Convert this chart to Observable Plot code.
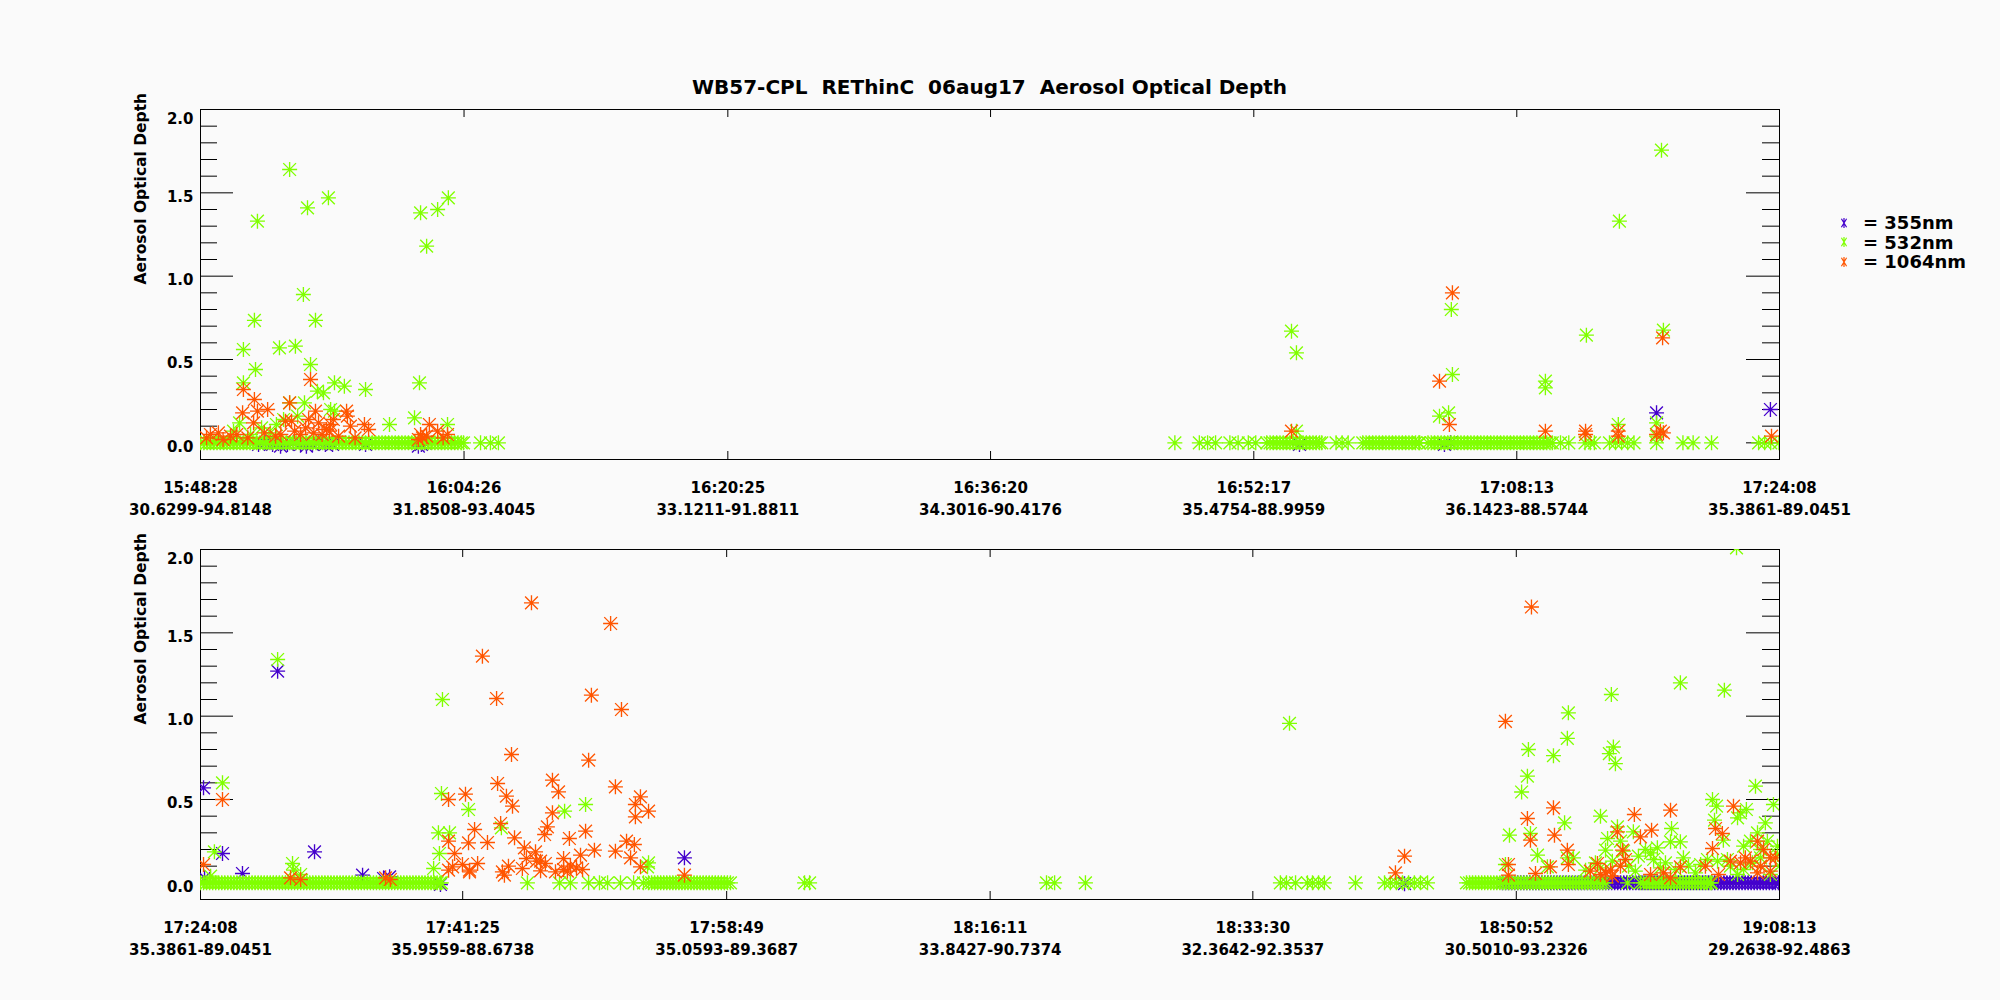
<!DOCTYPE html>
<html><head><meta charset="utf-8">
<script src="https://cdn.jsdelivr.net/npm/d3@7"></script>
<script src="https://cdn.jsdelivr.net/npm/@observablehq/plot@0.6"></script>
<style>
html,body{margin:0;padding:0;background:#fafafa;}
#wrap{position:relative;width:2000px;height:1000px;overflow:hidden;font-family:"DejaVu Sans",sans-serif;font-weight:bold;color:#000;}
#title{position:absolute;left:200px;width:1579px;top:73px;height:28px;line-height:28px;text-align:center;font-size:20px;white-space:pre;}
#top,#bot{position:absolute;left:0;}
#top{top:0px;}
#bot{top:460px;}
#legend{position:absolute;left:1838px;top:213px;font-size:18px;line-height:19.5px;white-space:pre;}
#legend .row{display:flex;align-items:center;height:19.5px;}
#legend svg{margin-right:13px;}
</style></head><body>
<div id="wrap">
  <div id="title"></div>
  <div id="top"></div>
  <div id="bot"></div>
  <div id="legend"></div>
</div>
<script>
// ---------- text ----------
const titleText = "WB57-CPL  REThinC  06aug17  Aerosol Optical Depth";
const yTitle = "Aerosol Optical Depth";
const seriesNames = ["355nm", "532nm", "1064nm"];
const seriesColors = ["#4400cc", "#80ff00", "#ff5500"];

// ---------- axes ----------
const topTimes = ["15:48:28","16:04:26","16:20:25","16:36:20","16:52:17","17:08:13","17:24:08"];
const topCoords = ["30.6299-94.8148","31.8508-93.4045","33.1211-91.8811","34.3016-90.4176","35.4754-88.9959","36.1423-88.5744","35.3861-89.0451"];
const botTimes = ["17:24:08","17:41:25","17:58:49","18:16:11","18:33:30","18:50:52","19:08:13"];
const botCoords = ["35.3861-89.0451","35.9559-88.6738","35.0593-89.3687","33.8427-90.7374","32.3642-92.3537","30.5010-93.2326","29.2638-92.4863"];
const yDomain = [-0.1, 2.0];
const yMajor = [0, 0.5, 1.0, 1.5, 2.0];
const yMinor = [0.1,0.2,0.3,0.4,0.6,0.7,0.8,0.9,1.1,1.2,1.3,1.4,1.6,1.7,1.8,1.9];
const yLabels = [0.0, 0.5, 1.0, 1.5];
const yTopLabel = [2.0];

// ---------- data: [seconds of day (UTC), AOD] ----------
// top panel 355nm
const top355 = [[57119,-0.01],[57144,0],[57170,-0.01],[57199,-0.02],[57224,-0.01],[57246,0],[57272,-0.01],[57293,-0.02],[57315,-0.01],[57337,0],[57362,-0.01],[57388,-0.01],[57508,-0.01],[57700,-0.02],[57711,-0.01],[57722,0],[60903,-0.01],[61430,-0.01],[61452,0],[62201,0.18],[62615,0.20]];
// top panel 532nm (above zero)
const top532 = [[57028,0.07],[57050,0.12],[57064,0.56],[57064,0.36],[57090,0.05],[57104,0.735],[57108,0.44],[57115,1.33],[57130,0.09],[57162,0.06],[57184,0.11],[57195,0.57],[57210,0.14],[57232,1.64],[57232,0.24],[57253,0.58],[57261,0.16],[57282,0.89],[57286,0.24],[57297,1.41],[57308,0.47],[57326,0.735],[57333,0.31],[57355,0.30],[57373,1.47],[57381,0.20],[57395,0.19],[57395,0.36],[57431,0.34],[57508,0.32],[57595,0.11],[57686,0.15],[57704,0.36],[57708,1.38],[57730,1.18],[57770,1.40],[57806,0.11],[57809,1.47],
[60874,0.67],[60892,0.54],[60892,0.07],[61412,0.16],[61445,0.18],[61455,0.80],[61459,0.41],[61797,0.37],[61797,0.33],[61946,0.646],[62062,0.11],[62066,1.33],[62201,0.12],[62219,1.756],[62226,0.676],[62201,0.04]];
// top panel 532nm records at 0.0
const top532Zero = [56908,56920,56932,56944,56956,56968,56980,56992,57004,57016,57028,57040,57052,57064,57076,57088,57100,57112,57124,57136,57148,57160,57172,57184,57196,57208,57220,57232,57244,57256,57268,57280,57292,57304,57316,57328,57340,57352,57364,57376,57388,57400,57412,57424,57436,57448,57460,57472,57484,57496,57508,57520,57532,57544,57556,57568,57580,57592,57604,57616,57628,57640,57652,57664,57676,57688,57700,57712,57724,57736,57748,57760,57772,57784,57796,57808,57820,57832,57844,57856,57864,57926,57962,57991,
60450,60539,60569,60598,60650,60680,60717,60744,
60784,60796,60808,60820,60832,60844,60856,60868,60880,60892,60904,60916,60928,60940,60952,60964,60976,60984,61036,61058,61080,
61133,61145,61157,61169,61181,61193,61205,61217,61229,61241,61253,61265,61277,61289,61301,61313,61325,61337,61340,
61370,61382,61394,61406,61418,61430,61442,61454,61466,61478,61490,61502,61514,61526,61538,61550,61562,61574,61586,61598,61610,61622,61634,61646,61658,61670,61682,61694,61706,61718,61730,61742,61754,61766,61778,61790,61802,61814,61822,
61852,61882,61941,61960,61975,62030,62052,62074,62096,62119,62201,62297,62334,62401,62572,62594,62616,62646];
// top panel 1064nm
const top1064 = [[56930,0.03],[56944,0.05],[56973,0.06],[56990,0.02],[57017,0.04],[57040,0.05],[57061,0.18],[57064,0.32],[57080,0.03],[57101,0.12],[57104,0.26],[57115,0.19],[57140,0.06],[57152,0.20],[57181,0.04],[57200,0.05],[57217,0.13],[57232,0.24],[57239,0.13],[57250,0.07],[57272,0.05],[57290,0.09],[57301,0.14],[57308,0.38],[57320,0.06],[57326,0.19],[57337,0.12],[57350,0.05],[57366,0.08],[57377,0.07],[57381,0.11],[57391,0.14],[57410,0.04],[57439,0.19],[57442,0.16],[57453,0.10],[57470,0.03],[57504,0.11],[57519,0.08],[57700,0.02],[57708,0.05],[57715,0.03],[57730,0.04],[57740,0.11],[57770,0.07],[57790,0.03],[57806,0.05],
[60874,0.07],[61412,0.37],[61448,0.11],[61459,0.90],[61797,0.07],[61943,0.07],[61943,0.05],[62062,0.07],[62062,0.04],[62201,0.05],[62215,0.07],[62223,0.63],[62226,0.06],[62619,0.04]];

// bottom panel 355nm
const bot355 = [[62660,0.57],[62664,0.03],[62735,0.176],[62814,0.056],[62953,1.27],[63099,0.186],[63289,0.046],[63372,0.026],[63396,0.036],[63597,-0.01],[64562,0.15],[67410,-0.005]];
const bot355Zero = [67797,67809,67821,67833,67845,67857,67869,67881,67893,67905,67917,67929,67941,67953,67965,67977,67989,68001,68013,68025,68037,68049,68061,68073,68085,68097,68109,68121,68133,68145,68157,68169,68181,68193,68205,68217,68229,68241,68253,68265,68277,68289,68301,68313,68325,68337,68349,68361,68373,68385,68397,68409,68421,68433,68445,68457,68469,68481,68493,68505,68517,68529,68541,68553,68565,68577,68589,68601,68613,68625,68637,68649,68661,68673,68685,68697,68709,68721,68733,68745,68757,68769,68781,68793,68805,68817,68829,68841,68853,68865,68877,68889,68893];
// bottom panel 532nm
const bot532 = [[62688,0.04],[62703,0.186],[62735,0.60],[62953,1.34],[63012,0.116],[63016,0.076],[63044,0.05],[63570,0.086],[63589,0.30],[63593,0.176],[63601,0.536],[63605,1.10],[63633,0.30],[63708,0.44],[63838,0.33],[64088,0.43],[64171,0.47],[64416,0.096],[64420,0.12],
[66955,0.957],[67809,0.11],[67825,0.286],[67873,0.545],[67896,0.64],[67900,0.80],[67908,0.296],[67936,0.166],[67975,0.096],[67999,0.763],[68043,0.36],[68054,0.867],[68054,0.15],[68058,1.02],[68078,0.15],[68126,0.076],[68165,0.12],[68185,0.40],[68185,0.09],[68205,0.196],[68213,0.266],[68220,0.775],[68228,1.13],[68232,0.13],[68236,0.815],[68244,0.715],[68252,0.336],[68264,0.25],[68276,0.19],[68296,0.10],[68315,0.306],[68323,0.07],[68335,0.16],[68363,0.20],[68383,0.18],[68395,0.14],[68410,0.21],[68422,0.09],[68442,0.12],[68462,0.246],[68466,0.326],[68482,0.08],[68501,0.246],[68501,1.20],[68513,0.15],[68533,0.10],[68561,0.06],[68581,0.11],[68608,0.14],[68628,0.50],[68636,0.376],[68644,0.46],[68648,0.13],[68671,0.256],[68675,1.156],[68687,0.14],[68699,0.10],[68723,2.01],[68727,0.39],[68727,0.05],[68739,0.42],[68751,0.22],[68751,0.08],[68762,0.44],[68778,0.25],[68786,0.12],[68798,0.58],[68806,0.30],[68818,0.20],[68818,0.15],[68837,0.36],[68845,0.25],[68857,0.05],[68869,0.47],[68885,0.22],[68885,0.17],[68893,0.10]];
const bot532Zero = [62648,62660,62672,62684,62696,62708,62720,62732,62744,62756,62768,62780,62792,62804,62816,62828,62840,62852,62864,62876,62888,62900,62912,62924,62936,62948,62960,62972,62984,62996,63008,63020,63032,63044,63056,63068,63080,63092,63104,63116,63128,63140,63152,63164,63176,63188,63200,63212,63224,63236,63248,63260,63272,63284,63296,63308,63320,63332,63344,63356,63368,63380,63392,63404,63416,63428,63440,63452,63464,63476,63488,63500,63512,63524,63536,63548,63560,63572,63584,63596,63601,
63941,64068,64111,64183,64226,64258,64309,64361,64400,
64420,64432,64444,64456,64468,64480,64492,64504,64516,64528,64540,64552,64564,64576,64588,64600,64612,64624,64636,64648,64660,64672,64684,64696,64708,64720,64732,64744,
65037,65057,65994,66026,66148,66919,66943,66979,67026,67046,67070,67093,67216,67331,67354,67378,67402,67426,67449,67473,67501,
67655,67667,67679,67691,67703,67715,67727,67739,67751,67763,67775,67787,67799,67811,67823,67835,67847,67859,67871,67883,67895,67907,67919,67931,67943,67955,67967,67979,67991,68003,68015,68027,68039,68051,68063,68075,68087,68099,68111,68123,68135,68147,68159,68171,68183,68195,68207,68292,
68343,68355,68367,68379,68391,68403,68415,68427,68439,68451,68463,68475,68487,68499,68511,68523,68535,68547,68559,68571,68583,68595,68607,68619,68624];
// bottom panel 1064nm
const bot1064 = [[62660,0.11],[62735,0.50],[63004,0.03],[63044,0.02],[63380,0.03],[63399,0.02],[63629,0.50],[63629,0.25],[63629,0.076],[63645,0.096],[63653,0.176],[63684,0.11],[63696,0.532],[63708,0.24],[63712,0.076],[63712,0.066],[63732,0.32],[63744,0.116],[63763,1.36],[63783,0.242],[63819,1.106],[63823,0.596],[63835,0.356],[63842,0.066],[63850,0.046],[63858,0.52],[63866,0.10],[63878,0.77],[63882,0.46],[63890,0.27],[63921,0.086],[63929,0.21],[63937,0.146],[63957,1.68],[63973,0.186],[63977,0.13],[63993,0.13],[63993,0.072],[64009,0.29],[64012,0.116],[64020,0.336],[64040,0.616],[64040,0.42],[64052,0.066],[64064,0.546],[64084,0.146],[64084,0.08],[64099,0.07],[64107,0.266],[64111,0.10],[64135,0.09],[64151,0.166],[64159,0.08],[64171,0.31],[64183,0.736],[64194,1.126],[64206,0.196],[64270,1.556],[64289,0.576],[64289,0.19],[64313,1.04],[64333,0.25],[64349,0.15],[64364,0.23],[64368,0.47],[64368,0.396],[64388,0.516],[64388,0.096],[64420,0.43],[64562,0.046],
[67374,0.06],[67410,0.16],[67809,0.969],[67821,0.11],[67821,0.046],[67896,0.386],[67908,0.256],[67912,1.655],[67928,0.056],[67987,0.096],[67999,0.45],[68003,0.286],[68054,0.196],[68058,0.11],[68145,0.07],[68173,0.116],[68185,0.05],[68205,0.06],[68225,0.076],[68232,0.04],[68252,0.306],[68264,0.10],[68272,0.196],[68284,0.14],[68319,0.41],[68343,0.276],[68383,0.05],[68387,0.316],[68434,0.06],[68462,0.436],[68462,0.03],[68501,0.096],[68600,0.10],[68628,0.206],[68640,0.326],[68652,0.05],[68667,0.296],[68699,0.13],[68711,0.46],[68739,0.12],[68758,0.15],[68778,0.13],[68806,0.25],[68806,0.06],[68818,0.10],[68830,0.20],[68857,0.15],[68857,0.07],[68877,0.15]];

// ---------- helpers ----------
const sec = s => { const [h,m,x] = s.split(":").map(Number); return h*3600 + m*60 + x; };
const pairs = a => a.map(([t,v]) => ({t, v}));
const zeros = a => a.map(t => ({t, v: 0}));

// IDL-style asterisk (psym=2): vertical, horizontal and two diagonals
const idlStar = {
  draw(ctx, size) {
    const r = Math.sqrt(size / Math.PI), d = r * 0.85;
    ctx.moveTo(0, -r); ctx.lineTo(0, r);
    ctx.moveTo(-r, 0); ctx.lineTo(r, 0);
    ctx.moveTo(-d, -d); ctx.lineTo(d, d);
    ctx.moveTo(-d, d); ctx.lineTo(d, -d);
  }
};

const W = 2000, H = 540, ML = 200, MR = 221;
const FW = W - ML - MR, FH = 350;
const font = {fontFamily: "DejaVu Sans", fontWeight: "bold", fill: "#000"};

function panel(times, coords, s355, s532, s532z, s1064, s355z, mTop) {
  const ticks = times.map(sec);
  const tickData = ticks.map((t, i) => ({t, label: times[i] + "\n" + coords[i]}));
  const dotOpts = c => ({x: "t", y: "v", r: 7.5, symbol: idlStar, fill: "none", stroke: c, strokeWidth: 1.35, clip: true});
  return Plot.plot({
    width: W, height: H,
    marginLeft: ML, marginRight: MR, marginTop: mTop, marginBottom: H - mTop - FH,
    x: {domain: [ticks[0], ticks[ticks.length - 1]], axis: null},
    y: {domain: yDomain, axis: null},
    style: {background: "transparent", overflow: "visible"},
    marks: [
      Plot.frame({stroke: "#000", strokeWidth: 1}),
      Plot.tickY(yMajor, {y: d => d, insetRight: FW - 33, stroke: "#000"}),
      Plot.tickY(yMinor, {y: d => d, insetRight: FW - 17, stroke: "#000"}),
      Plot.tickY(yMajor, {y: d => d, insetLeft: FW - 33, stroke: "#000"}),
      Plot.tickY(yMinor, {y: d => d, insetLeft: FW - 17, stroke: "#000"}),
      Plot.tickX(ticks, {x: d => d, insetTop: FH - 8, stroke: "#000"}),
      Plot.tickX(ticks, {x: d => d, insetBottom: FH - 8, stroke: "#000"}),
      Plot.dot(pairs(s355).concat(zeros(s355z || [])), dotOpts(seriesColors[0])),
      Plot.dot(pairs(s532).concat(zeros(s532z)), dotOpts(seriesColors[1])),
      Plot.dot(pairs(s1064), dotOpts(seriesColors[2])),
      Plot.text(yLabels, {y: d => d, text: d => d.toFixed(1), frameAnchor: "left", textAnchor: "end", dx: -7, dy: 4, fontSize: 15, ...font}),
      Plot.text(yTopLabel, {y: d => d, text: d => d.toFixed(1), frameAnchor: "left", textAnchor: "end", dx: -7, dy: 10, fontSize: 15, ...font}),
      Plot.text([yTitle], {frameAnchor: "left", dx: -59, rotate: -90, fontSize: 15.5, ...font}),
      Plot.text(tickData, {x: "t", text: "label", frameAnchor: "bottom", lineAnchor: "top", dy: 18, lineHeight: 1.45, fontSize: 15, ...font})
    ]
  });
}

document.getElementById("title").textContent = titleText;
document.getElementById("top").appendChild(panel(topTimes, topCoords, top355, top532, top532Zero, top1064, null, 109));
document.getElementById("bot").appendChild(panel(botTimes, botCoords, bot355, bot532, bot532Zero, bot1064, bot355Zero, 89));

// legend
const leg = document.getElementById("legend");
seriesNames.forEach((n, i) => {
  const row = document.createElement("div");
  row.className = "row";
  row.innerHTML = `<svg width="12" height="14" viewBox="-6 -7 12 14"><path d="M0,-5V5M-2.6,-4.2L2.6,4.2M-2.6,4.2L2.6,-4.2" stroke="${seriesColors[i]}" stroke-width="1.2" fill="none"/></svg><span>= ${n}</span>`;
  leg.appendChild(row);
});
</script>
</body></html>
